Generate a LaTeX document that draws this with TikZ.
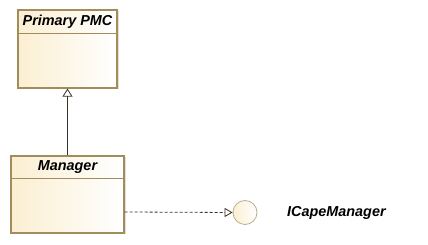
\documentclass[tikz,border=0pt]{standalone}
\usepackage{fontspec}
\setmainfont{Liberation Sans}
\usetikzlibrary{arrows.meta,shadings}
\definecolor{umlborder}{HTML}{A08C5C}
\definecolor{umlfill}{HTML}{FBEFD2}
\definecolor{umlshadow}{HTML}{E6DED2}
\definecolor{umlline}{HTML}{3A3228}
\tikzset{
  umlclass/.style={draw=umlborder, line width=1.1pt, left color=umlfill, right color=white, shading angle=90},
  shadowbox/.style={fill=umlshadow, draw=none},
  umltitle/.style={font=\fontsize{14.4}{16}\selectfont\bfseries\itshape, inner sep=0pt, anchor=center},
  generalization/.style={draw=umlline, line width=0.8pt, -{Triangle[open, length=8pt, width=10pt]}},
  realization/.style={draw=umlline, line width=0.8pt, dash pattern=on 3pt off 2pt, -{Triangle[open, length=8pt, width=9pt]}},
}
\begin{document}
\begin{tikzpicture}[x=1pt, y=-1pt]
  \useasboundingbox (0,0) rectangle (428,245);
  % Primary PMC class
  \fill[shadowbox] (19.5,11.5) rectangle (118.5,89.5);
  \path[umlclass] (18,10) rectangle (117,88);
  \draw[umlborder, line width=0.9pt] (18,33) -- (117,33);
  \node[umltitle] (pmc) at (67.5,21.5) {Primary PMC};
  \coordinate (pmcbottom) at (67.5,88.6);
  % Manager class
  \fill[shadowbox] (12.5,157.5) rectangle (125.5,234.5);
  \path[umlclass] (11,156) rectangle (124,233);
  \draw[umlborder, line width=0.9pt] (11,178) -- (124,178);
  \node[umltitle] (mgr) at (67.5,167) {Manager};
  \coordinate (mgrtop) at (67.5,155.4);
  \coordinate (mgrright) at (124.6,212);
  % Interface lollipop
  \node[circle, minimum size=24pt, inner sep=0pt, draw=umlborder!70, line width=0.8pt,
        left color=umlfill, right color=white, shading angle=90] (iface) at (245,212.5) {};
  \node[umltitle, anchor=west] (ifacelabel) at (287,213) {ICapeManager};
  % Connectors
  \draw[generalization] (mgrtop) -- (pmcbottom);
  \draw[realization] (mgrright) -- (iface.west);
\end{tikzpicture}
\end{document}
